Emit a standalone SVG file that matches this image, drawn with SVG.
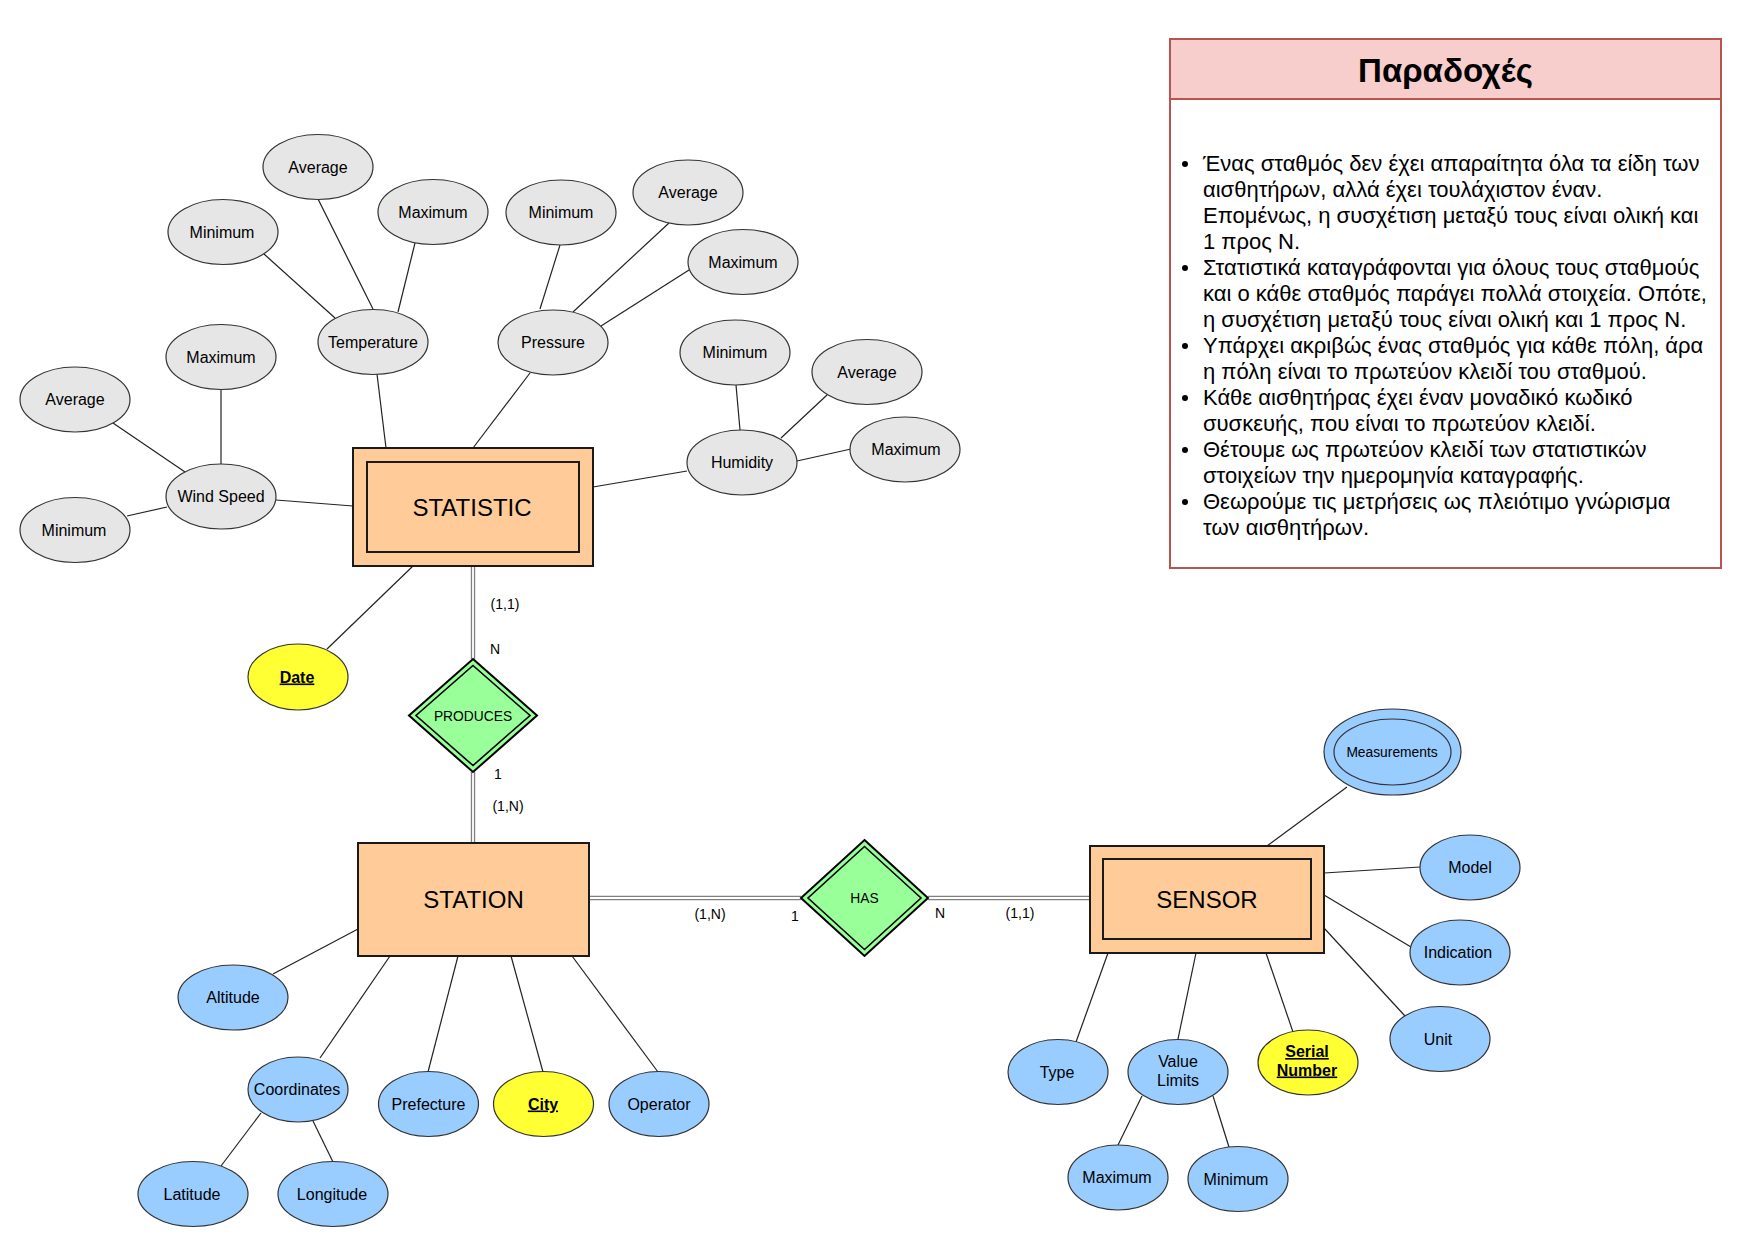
<svg xmlns="http://www.w3.org/2000/svg" width="1742" height="1248" viewBox="0 0 1742 1248">
<style>
text{font-family:"Liberation Sans",Arial,sans-serif;fill:#000}
.attr{font-size:16px;text-anchor:middle}
.key{font-size:16px;text-anchor:middle;font-weight:bold;text-decoration:underline}
.ent{font-size:24px;text-anchor:middle}
.rel{font-size:13.8px;text-anchor:middle}
.lbl{font-size:14px;text-anchor:middle}
.g{fill:#E6E6E6;stroke:#333;stroke-width:1.2}
.b{fill:#99CCFF;stroke:#333;stroke-width:1.2}
.y{fill:#FFFF33;stroke:#333;stroke-width:1.2}
.e{fill:#FFCC99;stroke:#1a1a1a;stroke-width:2}
.d{fill:#99FF99;stroke:#000;stroke-width:2}
.di{fill:none;stroke:#000;stroke-width:1.6}
.ln line{stroke:#222;stroke-width:1.2}
.dbl1{stroke:#808080;stroke-width:4.4;fill:none}
.dbl2{stroke:#fff;stroke-width:1.8;fill:none}
.note{font-size:22px}
</style>
<rect width="1742" height="1248" fill="#fff"/>

<g id="connectors">
<g class="ln">
<line x1="264" y1="254" x2="335" y2="318"/>
<line x1="318" y1="199" x2="373" y2="309"/>
<line x1="415" y1="243" x2="398" y2="312"/>
<line x1="377" y1="374" x2="386" y2="448"/>
<line x1="221" y1="389" x2="221" y2="464"/>
<line x1="113" y1="423" x2="185" y2="472"/>
<line x1="127" y1="516" x2="167" y2="507"/>
<line x1="276" y1="500" x2="353" y2="506"/>
<line x1="560" y1="245" x2="540" y2="309"/>
<line x1="669" y1="223" x2="573" y2="312"/>
<line x1="689" y1="270" x2="601" y2="326"/>
<line x1="530" y1="373" x2="473" y2="448"/>
<line x1="736" y1="385" x2="740" y2="430"/>
<line x1="827" y1="395" x2="781" y2="438"/>
<line x1="797" y1="461" x2="851" y2="449"/>
<line x1="593" y1="487" x2="687" y2="471"/>
<line x1="327" y1="649" x2="413" y2="566"/>
<line x1="273" y1="974" x2="358" y2="929"/>
<line x1="320" y1="1058" x2="390" y2="956"/>
<line x1="428" y1="1072" x2="458" y2="956"/>
<line x1="543" y1="1072" x2="511" y2="956"/>
<line x1="658" y1="1072" x2="572" y2="956"/>
<line x1="261" y1="1113" x2="221" y2="1166"/>
<line x1="313" y1="1121" x2="333" y2="1162"/>
<line x1="1347" y1="787" x2="1267" y2="846"/>
<line x1="1324" y1="873" x2="1420" y2="867"/>
<line x1="1324" y1="895" x2="1411" y2="947"/>
<line x1="1324" y1="928" x2="1405" y2="1016"/>
<line x1="1266" y1="953" x2="1293" y2="1032"/>
<line x1="1196" y1="953" x2="1178" y2="1039"/>
<line x1="1108" y1="953" x2="1076" y2="1042"/>
<line x1="1142" y1="1096" x2="1118" y2="1145"/>
<line x1="1213" y1="1096" x2="1229" y2="1147"/>
</g>
<path class="dbl1" d="M473 566V659M473 772V843M589 898H801M928 898H1090"/>
<path class="dbl2" d="M473 566V659M473 772V843M589 898H801M928 898H1090"/>
<text class="lbl" x="505" y="609">(1,1)</text>
<text class="lbl" x="495" y="654">N</text>
<text class="lbl" x="498" y="779">1</text>
<text class="lbl" x="508" y="811">(1,N)</text>
<text class="lbl" x="710" y="919">(1,N)</text>
<text class="lbl" x="795" y="921">1</text>
<text class="lbl" x="940" y="918">N</text>
<text class="lbl" x="1020" y="918">(1,1)</text>
</g>

<g id="statistic"><rect class="e" x="353" y="448" width="240" height="118"/><rect class="e" x="367" y="462" width="212" height="90"/><text class="ent" x="472" y="515.5">STATISTIC</text></g>
<g id="station"><rect class="e" x="358" y="843" width="231" height="113"/><text class="ent" x="473.5" y="907.5">STATION</text></g>
<g id="sensor"><rect class="e" x="1090" y="846" width="234" height="107"/><rect class="e" x="1103" y="859" width="208" height="80"/><text class="ent" x="1207" y="907.5">SENSOR</text></g>

<g id="produces"><polygon class="d" points="473,659 537,715.5 473,772 409,715.5"/><polygon class="di" points="473,665.5 530,715.5 473,765.5 416,715.5"/><text class="rel" x="473" y="720.5">PRODUCES</text></g>
<g id="has"><polygon class="d" points="864.5,840 928,898 864.5,956 801,898"/><polygon class="di" points="864.5,846.5 921,898 864.5,949.5 808,898"/><text class="rel" x="864.5" y="903">HAS</text></g>

<g id="temp-average"><ellipse class="g" cx="318" cy="167" rx="55" ry="32.5"/><text class="attr" x="318" y="172.5">Average</text></g>
<g id="temp-maximum"><ellipse class="g" cx="433" cy="212" rx="55" ry="32.5"/><text class="attr" x="433" y="217.5">Maximum</text></g>
<g id="temp-minimum"><ellipse class="g" cx="223" cy="232" rx="55" ry="32.5"/><text class="attr" x="222" y="237.5">Minimum</text></g>
<g id="temperature"><ellipse class="g" cx="373" cy="342" rx="55" ry="32.5"/><text class="attr" x="373" y="347.5">Temperature</text></g>
<g id="wind-maximum"><ellipse class="g" cx="221" cy="357" rx="55" ry="32.5"/><text class="attr" x="221" y="362.5">Maximum</text></g>
<g id="wind-average"><ellipse class="g" cx="75" cy="399.5" rx="55" ry="32.5"/><text class="attr" x="75" y="405">Average</text></g>
<g id="wind-speed"><ellipse class="g" cx="221" cy="496.5" rx="55" ry="32.5"/><text class="attr" x="221" y="502">Wind Speed</text></g>
<g id="wind-minimum"><ellipse class="g" cx="75" cy="530" rx="55" ry="32.5"/><text class="attr" x="74" y="535.5">Minimum</text></g>
<g id="press-minimum"><ellipse class="g" cx="561" cy="212.5" rx="55" ry="32.5"/><text class="attr" x="561" y="218">Minimum</text></g>
<g id="press-average"><ellipse class="g" cx="688" cy="192.5" rx="55" ry="32.5"/><text class="attr" x="688" y="198">Average</text></g>
<g id="press-maximum"><ellipse class="g" cx="743" cy="262" rx="55" ry="32.5"/><text class="attr" x="743" y="267.5">Maximum</text></g>
<g id="pressure"><ellipse class="g" cx="553" cy="342.5" rx="55" ry="32.5"/><text class="attr" x="553" y="348">Pressure</text></g>
<g id="hum-minimum"><ellipse class="g" cx="735" cy="352.5" rx="55" ry="32.5"/><text class="attr" x="735" y="358">Minimum</text></g>
<g id="hum-average"><ellipse class="g" cx="867" cy="372" rx="55" ry="32.5"/><text class="attr" x="867" y="377.5">Average</text></g>
<g id="humidity"><ellipse class="g" cx="742" cy="462.5" rx="55" ry="32.5"/><text class="attr" x="742" y="468">Humidity</text></g>
<g id="hum-maximum"><ellipse class="g" cx="905" cy="449.5" rx="55" ry="32.5"/><text class="attr" x="906" y="455">Maximum</text></g>
<g id="date"><ellipse class="y" cx="298" cy="677" rx="50" ry="33"/><text class="key" x="297" y="682.5">Date</text></g>

<g id="altitude"><ellipse class="b" cx="233" cy="997.5" rx="55" ry="32.5"/><text class="attr" x="233" y="1003">Altitude</text></g>
<g id="coordinates"><ellipse class="b" cx="298" cy="1089.5" rx="50" ry="32.5"/><text class="attr" x="297" y="1095">Coordinates</text></g>
<g id="prefecture"><ellipse class="b" cx="428.5" cy="1104" rx="50" ry="32.5"/><text class="attr" x="428.5" y="1109.5">Prefecture</text></g>
<g id="city"><ellipse class="y" cx="543.5" cy="1104" rx="50" ry="32.5"/><text class="key" x="543" y="1109.5">City</text></g>
<g id="operator"><ellipse class="b" cx="659" cy="1104" rx="50" ry="32.5"/><text class="attr" x="659" y="1109.5">Operator</text></g>
<g id="latitude"><ellipse class="b" cx="193" cy="1194" rx="55" ry="32.5"/><text class="attr" x="192" y="1199.5">Latitude</text></g>
<g id="longitude"><ellipse class="b" cx="333" cy="1194" rx="55" ry="32.5"/><text class="attr" x="332" y="1199.5">Longitude</text></g>

<g id="measurements"><ellipse class="b" cx="1392.5" cy="752" rx="68.5" ry="43"/><ellipse class="b" cx="1392.5" cy="752" rx="58.5" ry="33"/><text class="rel" x="1392" y="757">Measurements</text></g>
<g id="model"><ellipse class="b" cx="1470" cy="867.5" rx="50" ry="32.5"/><text class="attr" x="1470" y="873">Model</text></g>
<g id="indication"><ellipse class="b" cx="1460" cy="952.5" rx="50" ry="32.5"/><text class="attr" x="1458" y="958">Indication</text></g>
<g id="unit"><ellipse class="b" cx="1440" cy="1039" rx="50" ry="32.5"/><text class="attr" x="1438" y="1044.5">Unit</text></g>
<g id="serial-number"><ellipse class="y" cx="1308" cy="1062.5" rx="50" ry="32.5"/><text class="key" x="1307" y="1057">Serial</text><text class="key" x="1307" y="1075.5">Number</text></g>
<g id="value-limits"><ellipse class="b" cx="1178" cy="1072" rx="50" ry="32.5"/><text class="attr" x="1178" y="1067">Value</text><text class="attr" x="1178" y="1085.5">Limits</text></g>
<g id="type"><ellipse class="b" cx="1058" cy="1072" rx="50" ry="32.5"/><text class="attr" x="1057" y="1077.5">Type</text></g>
<g id="vl-maximum"><ellipse class="b" cx="1118" cy="1177.5" rx="50" ry="32.5"/><text class="attr" x="1117" y="1183">Maximum</text></g>
<g id="vl-minimum"><ellipse class="b" cx="1238" cy="1179" rx="50" ry="32.5"/><text class="attr" x="1236" y="1184.5">Minimum</text></g>

<g id="assumptions">
<rect x="1170" y="39" width="551" height="529" fill="#fff" stroke="#B85450" stroke-width="2"/>
<rect x="1170" y="39" width="551" height="60" fill="#F8CECC" stroke="#B85450" stroke-width="2"/>
<text x="1445.5" y="82" font-size="33" font-weight="bold" text-anchor="middle">Παραδοχές</text>
<g fill="#000"><circle cx="1185" cy="164" r="3"/><circle cx="1185" cy="268" r="3"/><circle cx="1185" cy="346" r="3"/><circle cx="1185" cy="398" r="3"/><circle cx="1185" cy="450" r="3"/><circle cx="1185" cy="502" r="3"/></g>
<text class="note"><tspan x="1203" y="171">Ένας σταθμός δεν έχει απαραίτητα όλα τα είδη των</tspan><tspan x="1203" y="197">αισθητήρων, αλλά έχει τουλάχιστον έναν.</tspan><tspan x="1203" y="223">Επομένως, η συσχέτιση μεταξύ τους είναι ολική και</tspan><tspan x="1203" y="249">1 προς Ν.</tspan><tspan x="1203" y="275">Στατιστικά καταγράφονται για όλους τους σταθμούς</tspan><tspan x="1203" y="301">και ο κάθε σταθμός παράγει πολλά στοιχεία. Οπότε,</tspan><tspan x="1203" y="327">η συσχέτιση μεταξύ τους είναι ολική και 1 προς Ν.</tspan><tspan x="1203" y="353">Υπάρχει ακριβώς ένας σταθμός για κάθε πόλη, άρα</tspan><tspan x="1203" y="379">η πόλη είναι το πρωτεύον κλειδί του σταθμού.</tspan><tspan x="1203" y="405">Κάθε αισθητήρας έχει έναν μοναδικό κωδικό</tspan><tspan x="1203" y="431">συσκευής, που είναι το πρωτεύον κλειδί.</tspan><tspan x="1203" y="457">Θέτουμε ως πρωτεύον κλειδί των στατιστικών</tspan><tspan x="1203" y="483">στοιχείων την ημερομηνία καταγραφής.</tspan><tspan x="1203" y="509">Θεωρούμε τις μετρήσεις ως πλειότιμο γνώρισμα</tspan><tspan x="1203" y="535">των αισθητήρων.</tspan></text>
</g>
</svg>
